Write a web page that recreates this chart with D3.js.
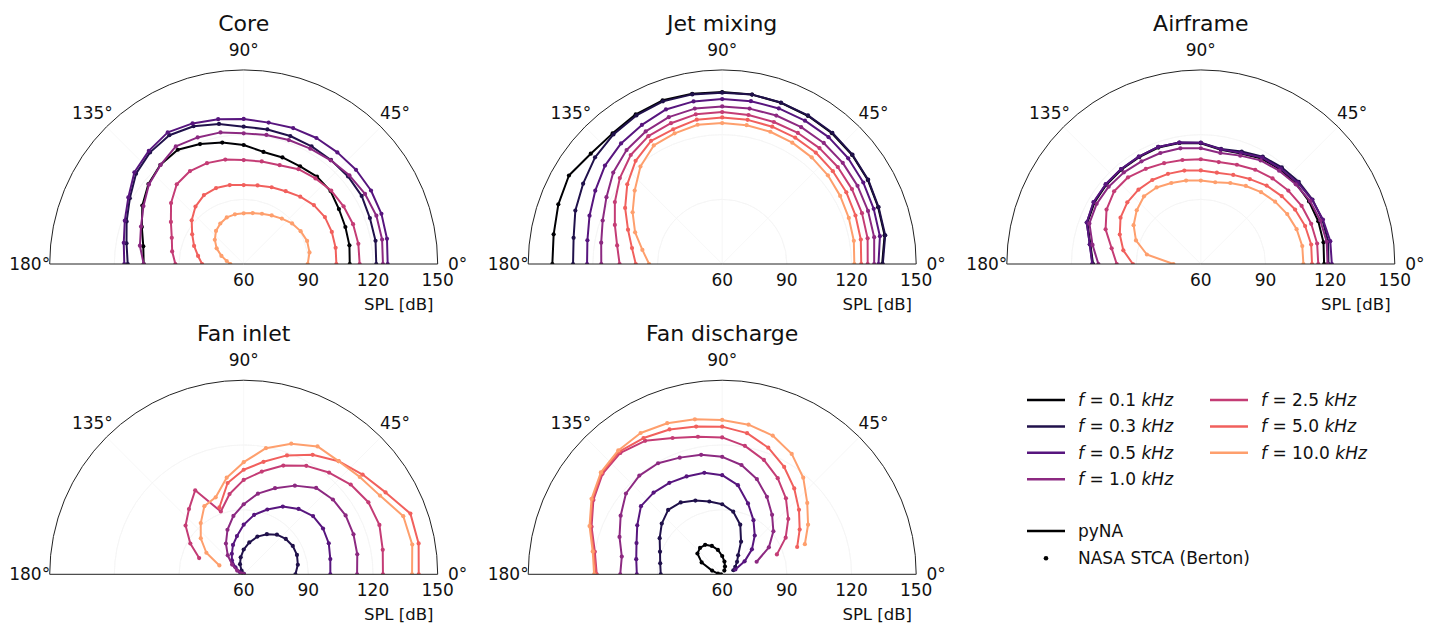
<!DOCTYPE html>
<html>
<head>
<meta charset="utf-8">
<script src="https://cdn.jsdelivr.net/npm/d3@7"></script>
<style>
  body { margin: 0; background: #fff; }
  svg { display: block; font-family: "DejaVu Sans", sans-serif; }
  text { white-space: pre; }
</style>
</head>
<body>
<svg id="chart" width="1434" height="625"></svg>
<script>
// directivity angle of each sample, degrees (0 = inlet axis side on the right)
const thetaDeg = [0, 10, 20, 30, 40, 50, 60, 70, 80, 90, 100, 110, 120, 130, 140, 150, 160, 170, 180];
const freqs = ['0.1', '0.3', '0.5', '1.0', '2.5', '5.0', '10.0'];
const radialTicks = [60, 90, 120, 150];
const thetaTicks = [0, 45, 90, 135, 180];
const panelTitles = ['Core', 'Jet mixing', 'Airframe', 'Fan inlet', 'Fan discharge'];

// SPL [dB] per frequency (rows follow freqs), one value per angle in thetaDeg
const coreSPL = [
  [109.2, 109.8, 110.2, 111, 112.6, 112.9, 112.3, 112.6, 112.8, 115.2, 117.2, 119.2, 121.2, 120.1, 117.7, 114.3, 110.3, 107.3, 106.4],
  [121.5, 122.1, 122.3, 123.2, 123.2, 123, 123, 123.2, 123.4, 123.7, 126, 128, 129, 127.6, 125.2, 121, 117.8, 115.2, 113.8],
  [126.8, 127.5, 128, 128.2, 128, 127.6, 127.5, 127.1, 126.6, 127.3, 128.2, 129.4, 130.5, 128.5, 126.2, 121.8, 118.7, 116.5, 115.4],
  [124.6, 125.2, 125.5, 125, 124, 122.8, 121.8, 121.2, 120.8, 120.6, 122, 122.5, 123, 120, 117.4, 113.7, 110.7, 108.9, 106.4],
  [113.8, 114, 114, 113.5, 113, 111.8, 110.8, 108.8, 108.3, 108.2, 109.2, 109.8, 109.8, 108.3, 104, 99, 95.5, 93.7, 91.7],
  [103, 103.3, 103.5, 103.5, 102.5, 100.8, 99, 97.9, 97, 96.6, 97.2, 97.5, 96.9, 94.8, 91.5, 87.6, 84.5, 81.5, 79.3],
  [89.7, 91, 91.3, 90.5, 89.3, 87.5, 86, 84.8, 84, 83.5, 83.4, 83, 81.7, 80, 77.5, 74.5, 71, 68, 66.2]
];

const jetSPL = [
  [134.2, 136.5, 137, 138, 138.7, 139.2, 139.4, 139.6, 139.8, 139.8, 140.2, 140.8, 140.2, 139.1, 139.6, 142.1, 140.9, 139.4, 138.8],
  [134.5, 136.8, 137.2, 138.2, 138.9, 139.5, 139.6, 139.7, 139.8, 139.5, 139.9, 140.3, 139.6, 138.5, 137, 134.5, 132.5, 130, 129.2],
  [132.5, 134.3, 134.8, 135.6, 136.3, 136.8, 136.8, 136.8, 136.7, 136.5, 136.6, 136.3, 134.5, 133, 131, 128, 125.5, 123.5, 122.7],
  [130.5, 131.6, 132, 132.5, 133, 133.3, 133.3, 133.3, 133.2, 133.1, 133.2, 132.5, 131, 129, 126, 122, 119, 117, 116.1],
  [127.5, 128.5, 129, 129.5, 130, 130.2, 130.2, 130.1, 130.2, 130.5, 130.5, 129.5, 128.5, 126, 122, 117.5, 113, 109.5, 107.6],
  [124.5, 125.3, 125.8, 126.5, 127, 127.5, 127.7, 127.8, 127.9, 128, 128, 126.5, 126, 122.5, 117.5, 112, 106.5, 102.5, 100.1],
  [121.3, 122, 122.5, 123.2, 124, 124.6, 125, 125.3, 125.4, 125.4, 125.6, 124.5, 123.5, 119, 113, 108, 103, 97.6, 93.9]
];

const airframeSPL = [
  [117.2, 117.8, 118, 118, 117.8, 117.3, 116.5, 114.5, 113.8, 116, 117, 117.5, 117.2, 117.2, 117.2, 117, 116, 112, 110],
  [119.2, 120, 120, 119.8, 119.3, 118.5, 117.5, 115.5, 114.2, 116.3, 117.2, 117.8, 117.5, 117.5, 117.5, 117.3, 116.3, 112.3, 110.2],
  [120.8, 121, 120.3, 119.6, 118.7, 117.7, 117, 114.8, 114, 116.2, 117.2, 117.8, 117.5, 117.5, 117.6, 117.5, 116.3, 112.3, 110.4],
  [118.8, 119.3, 119, 118.5, 117.5, 116.5, 115.5, 113.5, 112.3, 113.7, 114.5, 114.8, 115, 115.5, 115.8, 115.8, 115, 111, 107.5],
  [114.5, 114.8, 114.5, 114, 113, 111.8, 110.5, 109, 108, 108.6, 109, 109.8, 111, 112.5, 112.5, 110.5, 107, 102, 99],
  [111.6, 112, 111.5, 110.5, 109, 107.5, 105.5, 104, 103, 103.4, 104, 104.5, 105, 105, 104.5, 103, 100, 96.5, 91.5],
  [107.6, 107.8, 107.3, 106.3, 105, 103.5, 101.8, 100, 98.5, 98.7, 99.3, 100, 101, 101, 98.8, 96, 92, 85.4, 72.7]
];

const fanInletSPL = [
  [null, null, null, null, null, null, null, null, null, null, null, null, null, null, null, null, null, null, null],
  [84, 85.5, 86.3, 86.3, 85.5, 84, 81.5, 78.6, 75, 71.5, 68, 65, 62, 60.5, 60, 60, 60, 60, 60],
  [100.2, 100.8, 102, 102.5, 102, 99.6, 96.3, 92, 88, 83, 78, 74.5, 71, 68.5, 65, 62, 60.5, 60, 60],
  [112.6, 113.5, 114.2, 114.6, 114, 112.3, 107.5, 102.5, 98, 92.5, 87.5, 82, 76.5, 71.5, 67, 63.5, 61, 60, 60],
  [124.6, 125.5, 127, 126.8, 124.8, 121.6, 118.1, 113.7, 108.4, 103.8, 97.8, 91, 105, 99.5, 95.2, 88.6, 82, null, null],
  [141.2, 142.4, 142.3, 136, 132, 128.5, 124, 118.7, 113, 108.5, 103, 93, null, null, null, null, null, null, null],
  [138.1, 139.4, 138.8, 133, 130.3, 128.5, 128.5, 124.5, 119.4, 112, 105.5, 98, 96.5, 91, 86, 80, 72, null, null]
];

const fanDischargeSPL = [
  [null, null, null, null, null, null, 62, 63.8, 66, 68.5, 71.5, 74, 75.8, 76, 75, 71, 65, 62, 60.5],
  [null, null, 65.5, 67, 69, 71.5, 77.5, 84.5, 89.5, 92.5, 94.3, 96.4, 98.5, 99, 96.6, 93.5, 90.7, 89.2, 88.5],
  [null, null, 66.5, 72, 78, 83.5, 89, 95, 102, 106, 107.8, 108.3, 109, 109.5, 109.2, 105.5, 102.3, 100.5, 99.6],
  [null, null, 77, 85, 91, 96, 101.5, 107, 111.5, 114.5, 116.3, 117.6, 119.5, 119.8, 118.3, 114.4, 110.7, 107.3, 107.3],
  [null, null, 87, 94, 100, 106, 111.5, 116.5, 120.5, 123.5, 124.8, 127.3, 131.5, 133.5, 132.5, 129, 124.5, 120, 118.2],
  [null, null, 97, 101.5, 106.5, 112, 117.5, 122.5, 126.5, 128.5, 129.6, 131.5, 133, 134.3, 133, 129.5, 125, 120.5, 118.5],
  [null, null, 100.8, 106, 111.5, 118.5, 124.5, 128.5, 130.5, 131.6, 133, 134.6, 135.7, 135, 133.5, 130, 125.5, 121, 119.4]
];

const panelData = [coreSPL, jetSPL, airframeSPL, fanInletSPL, fanDischargeSPL];

// magma sampled on 0..0.8, one colour per frequency
const colors = freqs.map((f, i) => d3.interpolateMagma(i * 0.8 / (freqs.length - 1)));

const svg = d3.select('#chart');
const R = 194;
// panel centres (middle of the baseline of each half disc)
const centers = [
  [243.7, 264], [722.2, 264], [1200.8, 264],
  [243.7, 574.3], [722.2, 574.3]
];

const toRad = d => d * Math.PI / 180;

function drawPanel(idx) {
  const [cx, cy] = centers[idx];
  const g = svg.append('g').attr('transform', `translate(${cx},${cy})`);
  const r = d3.scaleLinear().domain([60, 150]).range([0, R]).clamp(true);

  const halfDisk = d3.arc()
    .innerRadius(0).outerRadius(R)
    .startAngle(-Math.PI / 2).endAngle(Math.PI / 2);

  const clipId = `clip-${idx}`;
  g.append('clipPath').attr('id', clipId)
    .append('path').attr('d', halfDisk());

  g.append('path').attr('d', halfDisk()).attr('fill', '#fff');

  // very faint polar grid, barely visible in the original
  const grid = g.append('g').attr('stroke', '#f5f5f5').attr('stroke-width', 0.8).attr('fill', 'none');
  [45, 90, 135].forEach(t => {
    grid.append('line')
      .attr('x1', 0).attr('y1', 0)
      .attr('x2', R * Math.cos(toRad(t))).attr('y2', -R * Math.sin(toRad(t)));
  });
  [90, 120].forEach(v => {
    grid.append('path').attr('d', d3.arc().innerRadius(r(v)).outerRadius(r(v))
      .startAngle(-Math.PI / 2).endAngle(Math.PI / 2)());
  });

  const line = d3.lineRadial()
    .angle(d => Math.PI / 2 - toRad(d.t))
    .radius(d => r(d.v))
    .defined(d => d.v != null);

  const curves = g.append('g').attr('clip-path', `url(#${clipId})`);
  panelData[idx].forEach((vals, i) => {
    const pts = thetaDeg.map((t, j) => ({ t, v: vals[j] }));
    curves.append('path')
      .attr('d', line(pts))
      .attr('fill', 'none')
      .attr('stroke', colors[i])
      .attr('stroke-width', 2)
      .attr('stroke-linejoin', 'round');
    curves.append('g').selectAll('circle')
      .data(pts.filter(d => d.v != null))
      .join('circle')
      .attr('cx', d => r(d.v) * Math.cos(toRad(d.t)))
      .attr('cy', d => -r(d.v) * Math.sin(toRad(d.t)))
      .attr('r', 2.1)
      .attr('fill', colors[i]);
  });

  // outline of the half disc (arc + baseline)
  g.append('path').attr('d', halfDisk())
    .attr('fill', 'none').attr('stroke', '#222').attr('stroke-width', 1);

  // angle labels
  g.selectAll('text.theta')
    .data(thetaTicks)
    .join('text')
    .attr('class', 'theta')
    .attr('x', t => (R + 20) * Math.cos(toRad(t)))
    .attr('y', t => -(R + 20) * Math.sin(toRad(t)))
    .attr('dy', '0.35em')
    .attr('text-anchor', 'middle')
    .attr('font-size', 17)
    .attr('fill', '#111')
    .text(t => `${t}°`);

  // radial tick labels along the 0° side
  g.selectAll('text.rtick')
    .data(radialTicks)
    .join('text')
    .attr('class', 'rtick')
    .attr('x', v => r(v))
    .attr('y', 16)
    .attr('dy', '0.35em')
    .attr('text-anchor', 'middle')
    .attr('font-size', 17)
    .attr('fill', '#111')
    .text(v => v);

  g.append('text')
    .attr('x', 155).attr('y', 40).attr('dy', '0.35em')
    .attr('text-anchor', 'middle')
    .attr('font-size', 16.5)
    .attr('fill', '#111')
    .text('SPL [dB]');

  g.append('text')
    .attr('x', 0).attr('y', -241).attr('dy', '0.35em')
    .attr('text-anchor', 'middle')
    .attr('font-size', 22)
    .attr('fill', '#111')
    .text(panelTitles[idx]);
}

panelData.forEach((d, i) => drawPanel(i));

// legend
const legend = svg.append('g').attr('font-size', 17).attr('fill', '#111');
const legendRowsY = [400, 426.5, 452.8, 479.3];
freqs.forEach((f, i) => {
  const col = i < 4 ? 0 : 1;
  const row = i < 4 ? i : i - 4;
  const x0 = col === 0 ? 1027 : 1210;
  const y = legendRowsY[row];
  legend.append('line')
    .attr('x1', x0).attr('x2', x0 + 38)
    .attr('y1', y).attr('y2', y)
    .attr('stroke', colors[i]).attr('stroke-width', 2.4);
  const t = legend.append('text')
    .attr('x', x0 + 51).attr('y', y).attr('dy', '0.35em');
  t.append('tspan').style('font-style', 'italic').text('f');
  t.append('tspan').text(` = ${f} `);
  t.append('tspan').style('font-style', 'italic').text('kHz');
});

legend.append('line')
  .attr('x1', 1027).attr('x2', 1065)
  .attr('y1', 531).attr('y2', 531)
  .attr('stroke', '#000').attr('stroke-width', 2.4);
legend.append('text')
  .attr('x', 1078).attr('y', 531).attr('dy', '0.35em')
  .text('pyNA');
legend.append('circle')
  .attr('cx', 1046).attr('cy', 558.3).attr('r', 2.3).attr('fill', '#000');
legend.append('text')
  .attr('x', 1078).attr('y', 558.3).attr('dy', '0.35em')
  .text('NASA STCA (Berton)');
</script>
</body>
</html>
